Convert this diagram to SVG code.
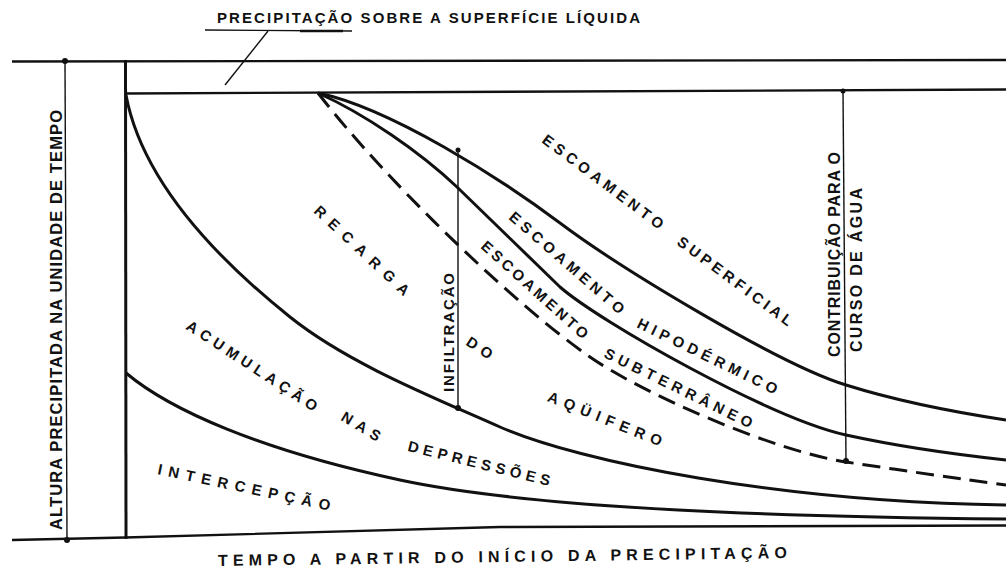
<svg xmlns="http://www.w3.org/2000/svg" width="1006" height="568" viewBox="0 0 1006 568">
<style>
.ln{fill:none;stroke:#111;stroke-linecap:butt}
.thick{stroke-width:3}
.mid{stroke-width:2.4}
.thin{stroke-width:1.4}
.dash{stroke-dasharray:18 9}
.dot{fill:#111}
.t{font-family:"Liberation Sans",Arial,sans-serif;font-weight:bold;fill:#111}
.sl{font-size:15px}
</style>
<rect width="1006" height="568" fill="#fff"/>
<g id="connectors">
  <line class="ln mid" x1="12" y1="61.5" x2="1006" y2="60"/>
  <line class="ln mid" x1="125" y1="93.5" x2="1006" y2="89.5"/>
  <line class="ln thick" x1="125.5" y1="60" x2="126" y2="539"/>
  <polyline class="ln mid" points="12,540 125,537.5 500,527 1006,525.5"/>
  <line class="ln thin" x1="65" y1="61" x2="67" y2="540"/>
  <circle class="dot" cx="65" cy="61" r="3"/>
  <circle class="dot" cx="67" cy="540" r="3"/>
  <line class="ln thin" x1="205" y1="30" x2="352" y2="31"/>
  <line class="ln" stroke-width="2.5" x1="300" y1="31" x2="343" y2="31"/>
  <line class="ln thin" x1="268" y1="31" x2="225" y2="85"/>
  <path id="cA" class="ln thick" d="M318,93 C390,108 500,178 560,223 C620,268 780,365 846,385 C900,402 960,413 1006,420"/>
  <path id="cB" class="ln thick" d="M318,93 C365,114 420,152 457,187 C490,219 527,255 560,287 C600,322 770,418 846,435 C910,449 960,455 1006,460"/>
  <path id="cC" class="ln thick dash" d="M318,93 C385,180 515,305 590,357 C640,392 770,450 846,462 C900,470 960,479 1006,485"/>
  <path id="cD" class="ln thick" d="M126,95 C140,170 200,245 290,317 C350,365 440,400 500,427 C580,462 780,502 1006,505"/>
  <path id="cE" class="ln thick" d="M126,373 C170,410 260,450 400,480 C540,510 800,517 1006,519"/>
  <line class="ln thin" x1="458" y1="150" x2="458" y2="408"/>
  <circle class="dot" cx="458" cy="150" r="2.5"/>
  <circle class="dot" cx="458" cy="408" r="3"/>
  <line class="ln thin" x1="843" y1="91" x2="846" y2="461"/>
  <circle class="dot" cx="843" cy="91" r="2.5"/>
  <circle class="dot" cx="846" cy="461" r="3"/>
</g>
<g id="title-top"><text class="t" x="217" y="23" font-size="15" textLength="423" lengthAdjust="spacing">PRECIPITAÇÃO SOBRE A SUPERFÍCIE LÍQUIDA</text></g>
<g id="title-bottom"><text class="t" transform="translate(218,566) rotate(-0.8)" font-size="16" textLength="569" lengthAdjust="spacing">TEMPO A PARTIR DO INÍCIO DA PRECIPITAÇÃO</text></g>
<g id="axis-y"><text class="t" transform="translate(62,530) rotate(-90)" font-size="16.5" textLength="420" lengthAdjust="spacing">ALTURA PRECIPITADA NA UNIDADE DE TEMPO</text></g>
<g id="infiltracao"><text class="t" transform="translate(453.5,392) rotate(-90)" font-size="15" textLength="119" lengthAdjust="spacing">INFILTRAÇÃO</text></g>
<g id="contribuicao">
  <text class="t" transform="translate(840,357) rotate(-90)" font-size="16" textLength="205" lengthAdjust="spacing">CONTRIBUIÇÃO PARA O</text>
  <text class="t" transform="translate(862,352) rotate(-90)" font-size="16" textLength="164" lengthAdjust="spacing">CURSO DE ÁGUA</text>
</g>
<g id="superficial">
  <text class="t sl" transform="translate(541,142) rotate(36.7)" textLength="147" lengthAdjust="spacing">ESCOAMENTO</text>
  <text class="t sl" transform="translate(676,244) rotate(36.5)" textLength="139" lengthAdjust="spacing">SUPERFICIAL</text>
</g>
<g id="hipodermico">
  <text class="t sl" transform="translate(508,218.5) rotate(41)" textLength="147" lengthAdjust="spacing">ESCOAMENTO</text>
  <text class="t sl" transform="translate(636,327) rotate(26)" textLength="154" lengthAdjust="spacing">HIPODÉRMICO</text>
</g>
<g id="subterraneo">
  <text class="t sl" transform="translate(480,247.5) rotate(42)" textLength="138" lengthAdjust="spacing">ESCOAMENTO</text>
  <text class="t sl" transform="translate(603,357) rotate(26)" textLength="163" lengthAdjust="spacing">SUBTERRÂNEO</text>
</g>
<g id="recarga">
  <text class="t sl" transform="translate(313,212) rotate(43)" textLength="124" lengthAdjust="spacing">RECARGA</text>
  <text class="t sl" transform="translate(465,344.5) rotate(33)" textLength="28" lengthAdjust="spacing">DO</text>
  <text class="t sl" transform="translate(546.5,400.7) rotate(22)" textLength="122" lengthAdjust="spacing">AQÜIFERO</text>
</g>
<g id="acumulacao">
  <text class="t sl" transform="translate(185,328.5) rotate(33)" textLength="153" lengthAdjust="spacing">ACUMULAÇÃO</text>
  <text class="t sl" transform="translate(340,419.7) rotate(31)" textLength="43" lengthAdjust="spacing">NAS</text>
  <text class="t sl" transform="translate(407,450.7) rotate(14)" textLength="146" lengthAdjust="spacing">DEPRESSÕES</text>
</g>
<g id="intercepcao">
  <text class="t sl" transform="translate(157,474) rotate(12)" textLength="176" lengthAdjust="spacing">INTERCEPÇÃO</text>
</g>
</svg>
